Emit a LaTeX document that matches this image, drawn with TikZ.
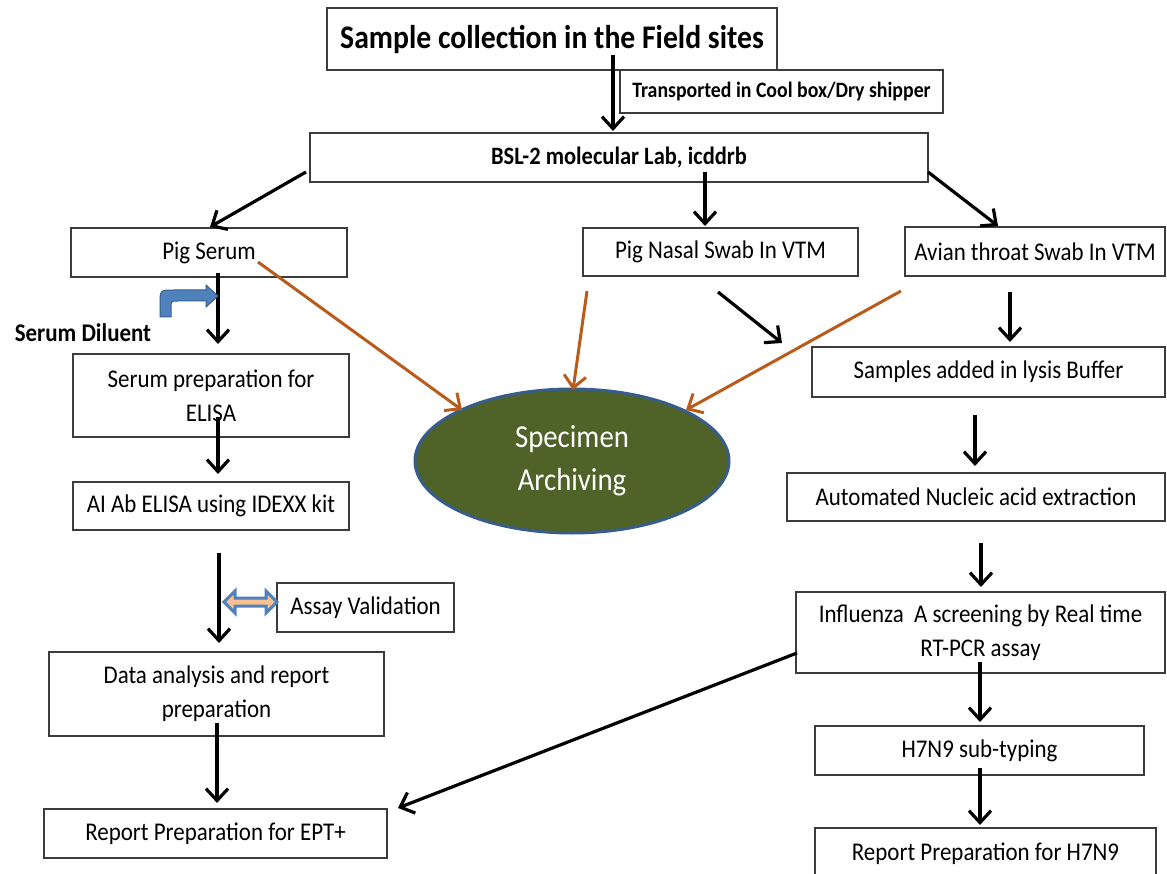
\documentclass[tikz,border=0pt]{standalone}
\usepackage{fontspec}
\setmainfont{Carlito}[FakeStretch=0.9]
\usetikzlibrary{arrows.meta,shapes.geometric}
\definecolor{boxline}{RGB}{60,60,60}
\definecolor{brownarr}{RGB}{184,92,28}
\definecolor{olivefill}{RGB}{79,98,40}
\definecolor{ellline}{RGB}{56,93,138}
\definecolor{bluefill}{RGB}{79,129,189}
\definecolor{blueline}{RGB}{56,93,138}
\definecolor{peach}{RGB}{250,192,144}
\begin{document}
\begin{tikzpicture}[x=1pt,y=-1pt,
  box/.style={draw=boxline, line width=1.1pt, inner sep=0pt, align=center,
    font=\fontsize{25.5}{34}\selectfont},
  arr/.style={draw=black, line width=3.2pt,
    -{Straight Barb[length=12pt,width=22pt,line width=3.2pt]}},
  brarr/.style={draw=brownarr, line width=3pt,
    -{Straight Barb[length=12pt,width=22pt,line width=3pt]}}]
\useasboundingbox (0,0) rectangle (1167,874);
\clip (0,0) rectangle (1167,874);

% boxes
\node[box, minimum width=450pt, minimum height=62pt,
  font=\fontsize{33}{38}\bfseries] (title) at (552,39) {Sample collection in the Field sites};
\node[box, minimum width=323pt, minimum height=43pt,
  font=\fontsize{22}{26}\bfseries] (transp) at (781.5,91.5) {Transported in Cool box/Dry shipper};
\node[box, minimum width=618pt, minimum height=49pt,
  font=\fontsize{25}{30}\bfseries] (bsl) at (619,157.5) {BSL-2 molecular Lab, icddrb};
\node[box, minimum width=276pt, minimum height=49pt] (pigserum) at (209,252.5) {Pig Serum};
\node[box, minimum width=275pt, minimum height=48pt] (pignasal) at (720.5,252) {Pig Nasal Swab In VTM};
\node[box, minimum width=260pt, minimum height=49pt] (avian) at (1035,251.5) {Avian throat Swab In VTM};
\node[box, minimum width=276pt, minimum height=83pt] (serumprep) at (211,395.5) {Serum preparation for\\ELISA};
\node[box, minimum width=276pt, minimum height=48pt] (aiab) at (211,506) {AI Ab ELISA using IDEXX kit};
\node[box, minimum width=177pt, minimum height=49pt] (assay) at (365.5,607.5) {Assay Validation};
\node[box, minimum width=335pt, minimum height=84pt] (data) at (216.5,694) {Data analysis and report\\preparation};
\node[box, minimum width=343pt, minimum height=49pt] (eptrep) at (215.5,833.5) {Report Preparation for EPT+};
\node[box, minimum width=353pt, minimum height=50pt] (samples) at (988.5,372) {Samples added in lysis Buffer};
\node[box, minimum width=378pt, minimum height=48pt] (auto) at (976,497) {Automated Nucleic acid extraction};
\node[box, minimum width=369pt, minimum height=81pt] (influenza) at (980.5,632.5) {Influenza\ \ A screening by Real time\\RT-PCR assay};
\node[box, minimum width=329pt, minimum height=49pt] (h7n9) at (979.5,750.5) {H7N9 sub-typing};
\node[box, minimum width=341pt, minimum height=52pt] (h7rep) at (985.5,854) {Report Preparation for H7N9};

\node[font=\fontsize{25.5}{30}\bfseries, inner sep=0pt] (diluent) at (83,333) {Serum Diluent};

\node[ellipse, draw=ellline, line width=3pt, fill=olivefill, minimum width=314pt,
  minimum height=144pt, inner sep=0pt, text=white, align=center,
  font=\fontsize{32}{43}\selectfont] (arch) at (572,461) {Specimen\\Archiving};

% connector end points
\coordinate (a1s) at (613,55);   \coordinate (a1e) at (613,131);
\coordinate (a2s) at (306,172);  \coordinate (a2e) at (210,227);
\coordinate (a3s) at (705,172);  \coordinate (a3e) at (705,226);
\coordinate (a4s) at (928,172);  \coordinate (a4e) at (998,226);
\coordinate (a5s) at (218,273);  \coordinate (a5e) at (218,344);
\coordinate (a6s) at (218,417);  \coordinate (a6e) at (218,474);
\coordinate (a7s) at (219,553);  \coordinate (a7e) at (219,643);
\coordinate (a8s) at (217,723);  \coordinate (a8e) at (217,803);
\coordinate (a9s) at (718,292);  \coordinate (a9e) at (782,343);
\coordinate (a10s) at (1010,292); \coordinate (a10e) at (1010,342);
\coordinate (a11s) at (975,415); \coordinate (a11e) at (975,466);
\coordinate (a12s) at (981,543); \coordinate (a12e) at (981,587);
\coordinate (a13s) at (980,662); \coordinate (a13e) at (980,722);
\coordinate (a14s) at (980,768); \coordinate (a14e) at (980,825);
\coordinate (a15s) at (797,653); \coordinate (a15e) at (398,808);
\coordinate (b1s) at (258,262);  \coordinate (b1e) at (462,410);
\coordinate (b2s) at (587,291);  \coordinate (b2e) at (573,390);
\coordinate (b3s) at (901,291);  \coordinate (b3e) at (686,410);

\foreach \i in {1,...,15} {\draw[arr] (a\i s) -- (a\i e);}
\foreach \i in {1,2,3} {\draw[brarr] (b\i s) -- (b\i e);}

% blue bent arrow (serum diluent)
\filldraw[fill=bluefill, draw=blueline, line width=1pt]
  (160,317) -- (160,304) .. controls (160,290) .. (174,290) -- (206,290)
  -- (206,285) -- (218,296) -- (206,307) -- (206,301) -- (178,301)
  .. controls (171,301) .. (171,308) -- (171,317) -- cycle;

% double arrow (assay validation)
\filldraw[fill=peach, draw=bluefill, line width=3pt, line join=miter]
  (224,602) -- (235,591) -- (235,598) -- (266,598) -- (266,591) -- (277,602)
  -- (266,613) -- (266,606) -- (235,606) -- (235,613) -- cycle;
\end{tikzpicture}
\end{document}
